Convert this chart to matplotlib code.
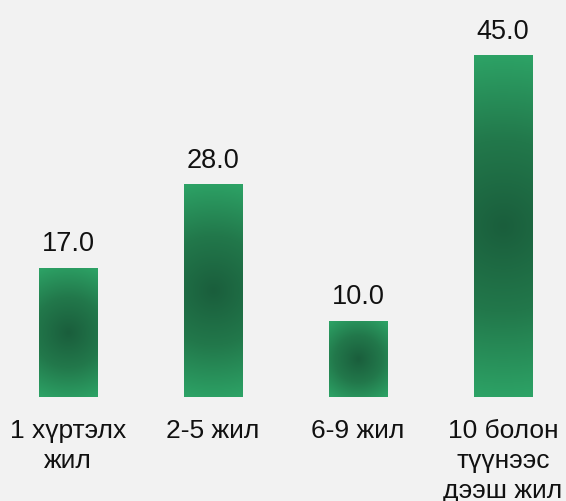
import numpy as np
import matplotlib
matplotlib.use("Agg")
import matplotlib.pyplot as plt
from matplotlib.colors import LinearSegmentedColormap

# data
categories = ["1 хүртэлх\nжил", "2-5 жил", "6-9 жил", "10 болон\nтүүнээс\nдээш жил"]
values = [17.0, 28.0, 10.0, 45.0]

plt.rcParams["font.family"] = ["Liberation Sans", "DejaVu Sans"]

BG = "#f2f2f2"
# radial gradient: dark centre -> lighter green edges
cmap = LinearSegmentedColormap.from_list("bar_grad", ["#1a5e3c", "#22784b", "#2da366"])

fig = plt.figure(figsize=(5.66, 5.01), dpi=100, facecolor=BG)
ax = fig.add_axes([0, 104 / 501, 1, 397 / 501])
ax.set_facecolor(BG)

x = np.arange(len(values))
bars = ax.bar(x, values, width=0.405, color="none", edgecolor="none")

xlim = (-68 / 145, (566 - 68) / 145)
ylim = (0, 397 / 7.58)
ax.set_xlim(*xlim)
ax.set_ylim(*ylim)

# fill each bar with a radial gradient, computed in pixel space
for b in bars:
    x0, y0, w, h = b.get_x(), b.get_y(), b.get_width(), b.get_height()
    (px0, py0), (px1, py1) = ax.transData.transform([(x0, y0), (x0 + w, y0 + h)])
    pw, ph = px1 - px0, py1 - py0
    nx, ny = max(int(pw), 2), max(int(ph), 2)
    xx = np.linspace(-pw / 2, pw / 2, nx)
    yy = np.linspace(-ph / 2, ph / 2, ny)
    X, Y = np.meshgrid(xx, yy)
    r = np.sqrt(X ** 2 + Y ** 2) / np.sqrt((pw / 2) ** 2 + (ph / 2) ** 2)
    ax.imshow(r, cmap=cmap, vmin=0, vmax=1, extent=(x0, x0 + w, y0, y0 + h),
              origin="lower", aspect="auto", interpolation="bilinear", zorder=2)

ax.set_xlim(*xlim)
ax.set_ylim(*ylim)

ax.bar_label(bars, labels=[f"{v:.1f}" for v in values], padding=8, fontsize=19.5, color="#111111")

ax.set_xticks(x, categories, fontsize=19, color="#111111", linespacing=1.3)
ax.tick_params(axis="x", length=0, pad=16)
ax.set_yticks([])
for s in ax.spines.values():
    s.set_visible(False)

fig.savefig("out.png", dpi=100, facecolor=BG)
